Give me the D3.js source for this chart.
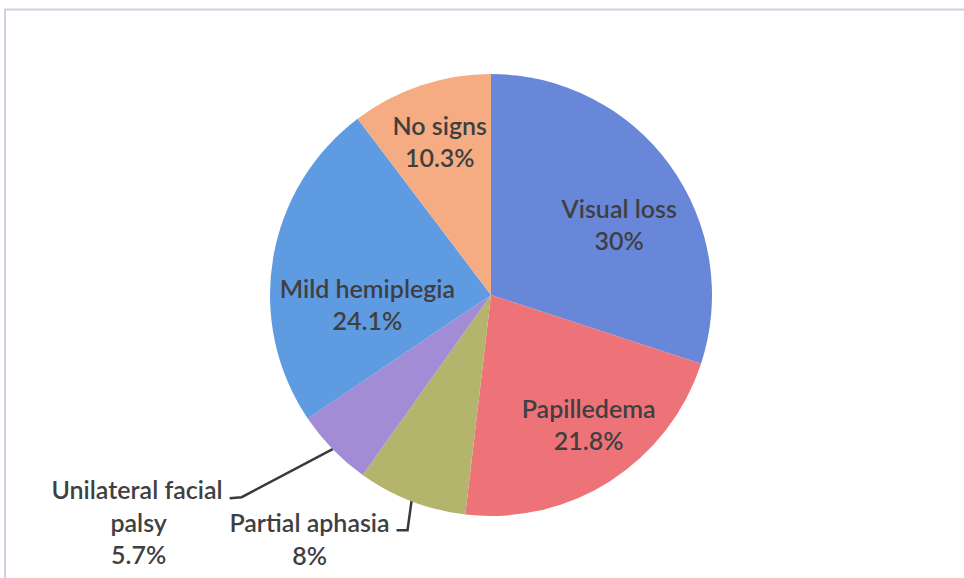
<!DOCTYPE html>
<html>
<head>
<meta charset="utf-8">
<script src="https://cdn.jsdelivr.net/npm/d3@7"></script>
<style>
  body { margin: 0; background: #fff; }
  svg { display: block; }
  .lbl { font-family: Lato, "Open Sans", sans-serif; font-size: 25px; fill: #3f3f42; font-weight: 600; }
</style>
</head>
<body>
<svg id="chart" width="964" height="578"></svg>
<script>
// slices, clockwise from 12 o'clock
var categories = ["Visual loss", "Papilledema", "Partial aphasia", "Unilateral facial palsy", "Mild hemiplegia", "No signs"];
var values = [30, 21.8, 8, 5.7, 24.1, 10.3];
var valueLabels = ["30%", "21.8%", "8%", "5.7%", "24.1%", "10.3%"];
var colors = ["#6987d9", "#ee7379", "#b5b46c", "#a28cd6", "#5f9be1", "#f5ac82"];

var svg = d3.select("#chart");
var cx = 491, cy = 295, radius = 221;

// frame of the chart area (top + left edges only visible)
svg.append("path")
  .attr("d", "M5,578 L5,9.5 L964,9.5")
  .attr("fill", "none")
  .attr("stroke", "#d8cde0")
  .attr("stroke-width", 2);

var pie = d3.pie().sort(null).value(function(d){ return d; });
var arcs = pie(values);
var arc = d3.arc().innerRadius(0).outerRadius(radius);

var g = svg.append("g").attr("transform", "translate(" + cx + "," + cy + ")");

g.selectAll("path.slice")
  .data(arcs)
  .enter()
  .append("path")
  .attr("class", "slice")
  .attr("d", arc)
  .attr("fill", function(d, i){ return colors[i]; });

// inside labels: [radius, angle nudge in degrees] per slice, like Excel's best fit
var inside = {0: [146, 7.4], 1: [163, -4.2], 4: [124, -14.1], 5: [161, 0]};
var lh = 32;

arcs.forEach(function(d, i){
  if (inside[i] === undefined) return;
  var r = inside[i][0];
  var a = (d.startAngle + d.endAngle) / 2 + inside[i][1] * Math.PI / 180;
  var x = Math.sin(a) * r, y = -Math.cos(a) * r;
  var t = g.append("text").attr("class", "lbl").attr("text-anchor", "middle");
  t.append("tspan").attr("x", x).attr("y", y - lh / 2 + 8.5).text(categories[i]);
  t.append("tspan").attr("x", x).attr("y", y + lh / 2 + 8.5).text(valueLabels[i]);
});

// outside labels with leader lines
function edgePoint(d){
  var a = (d.startAngle + d.endAngle) / 2;
  return [Math.sin(a) * radius, -Math.cos(a) * radius];
}

// Partial aphasia
var pa = edgePoint(arcs[2]);
g.append("path")
  .attr("d", "M" + pa[0] + "," + pa[1] + " L" + (pa[0] - 4) + "," + (pa[1] + 29) + " L" + (pa[0] - 15) + "," + (pa[1] + 29))
  .attr("fill", "none").attr("stroke", "#3a3a3e").attr("stroke-width", 2.5);
var paT = g.append("text").attr("class", "lbl").attr("text-anchor", "middle");
paT.append("tspan").attr("x", pa[0] - 102).attr("y", pa[1] + 31).text(categories[2]);
paT.append("tspan").attr("x", pa[0] - 102).attr("y", pa[1] + 64).text(valueLabels[2]);

// Unilateral facial palsy
var uf = edgePoint(arcs[3]);
g.append("path")
  .attr("d", "M" + uf[0] + "," + uf[1] + " L" + (uf[0] - 91) + "," + (uf[1] + 48) + " L" + (uf[0] - 103) + "," + (uf[1] + 49))
  .attr("fill", "none").attr("stroke", "#3a3a3e").attr("stroke-width", 2.5);
var ufT = g.append("text").attr("class", "lbl").attr("text-anchor", "end");
ufT.append("tspan").attr("x", uf[0] - 110).attr("y", uf[1] + 50).text("Unilateral facial");
var ufT2 = g.append("text").attr("class", "lbl").attr("text-anchor", "middle");
ufT2.append("tspan").attr("x", uf[0] - 194).attr("y", uf[1] + 83).text("palsy");
ufT2.append("tspan").attr("x", uf[0] - 194).attr("y", uf[1] + 115).text(valueLabels[3]);
</script>
</body>
</html>
